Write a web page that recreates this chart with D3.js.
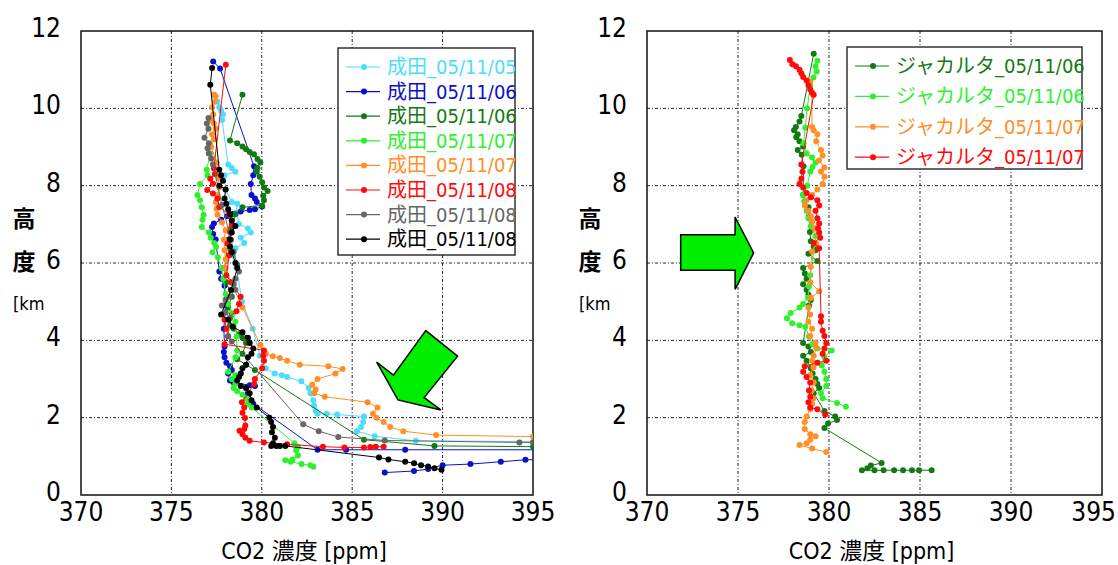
<!DOCTYPE html>
<html>
<head>
<meta charset="utf-8">
<script src="https://cdn.jsdelivr.net/npm/d3@7"></script>
<style>
body { margin: 0; background: #fff; }
text { font-family: "Liberation Sans Narrow", "DejaVu Sans Condensed", "Noto Sans CJK JP", sans-serif; }
</style>
</head>
<body>
<svg id="chart" width="1118" height="565"></svg>
<script>
// axis ticks
var xTicks = [370, 375, 380, 385, 390, 395];
var yTicks = [0, 2, 4, 6, 8, 10, 12];

// Narita profiles [CO2 ppm, altitude km]
var naritaCyan = [[377.35,10.35],[377.55,10.17],[377.65,10.03],[377.75,9.94],[377.85,9.84],[377.8,9.7],[378.14,8.55],[378.34,8.46],[378.54,8.36],[377.94,8.27],[378.0,7.9],[378.34,7.58],[378.64,7.53],[378.6,7.3],[378.74,7.01],[379.23,6.89],[379.39,6.79],[378.84,6.65],[379.03,6.52],[378.54,6.38],[378.4,6.2],[378.6,5.9],[378.9,5.0],[379.5,4.3],[379.9,3.6],[380.22,3.28],[380.71,3.14],[381.11,3.10],[381.4,3.05],[382.19,2.94],[382.59,2.77],[382.69,2.63],[382.85,2.45],[382.89,2.31],[382.98,2.17],[383.08,2.10],[383.58,2.10],[384.17,2.08],[385.65,2.03],[385.61,1.89],[385.49,1.76],[385.26,1.65],[386.24,1.52],[388.52,1.40],[395,1.38]];
var naritaBlue = [[377.31,11.21],[377.69,11.03],[379.57,8.50],[379.53,8.27],[379.39,8.04],[379.43,7.76],[379.62,7.67],[379.72,7.58],[380.02,7.46],[379.62,7.39],[379.33,7.37],[378.83,7.33],[378.38,7.27],[378.08,7.21],[377.75,7.12],[377.35,7.02],[377.25,6.93],[377.31,6.75],[377.45,6.61],[377.65,5.78],[377.75,5.59],[377.94,5.41],[378.0,4.9],[377.9,4.3],[377.94,3.84],[377.9,3.70],[377.94,3.56],[378.04,3.42],[378.24,3.33],[378.34,3.23],[378.14,3.14],[378.24,2.96],[378.44,2.91],[379.33,2.84],[379.62,2.82],[379.13,2.77],[379.23,2.63],[379.53,2.36],[383.08,1.17],[384.66,1.17],[387.93,1.17],[399,1.17],[399,0.95],[394.58,0.91],[393.22,0.86],[391.54,0.80],[390.0,0.77],[389.2,0.67],[388.42,0.62],[386.8,0.58]];
var naritaDkGreen = [[378.93,10.35],[378.24,9.17],[378.64,9.10],[378.93,9.01],[379.13,8.94],[379.33,8.87],[379.57,8.81],[379.76,8.69],[379.92,8.60],[379.76,8.46],[379.72,8.36],[379.88,8.23],[380.02,8.09],[380.12,7.95],[380.32,7.86],[380.08,7.74],[380.12,7.62],[380.02,7.49],[378.93,7.44],[378.54,7.26],[378.3,6.9],[378.14,6.6],[377.94,5.87],[378.04,5.5],[378.34,5.13],[378.14,4.85],[378.34,4.67],[378.24,4.39],[378.44,4.30],[378.74,4.16],[378.93,4.07],[379.13,3.93],[378.93,3.65],[378.64,3.51],[379.13,3.37],[379.62,3.23],[385.65,1.43],[389.55,1.27],[395,1.25]];
var naritaLtGreen = [[377.15,8.83],[376.95,8.41],[377.0,8.27],[376.58,8.04],[376.44,7.76],[376.58,7.62],[376.68,7.44],[376.78,7.25],[376.72,7.12],[376.68,6.93],[377.07,6.79],[377.17,6.65],[377.37,6.52],[377.47,6.42],[377.27,6.28],[377.57,6.15],[377.77,5.87],[377.87,5.59],[378.0,5.2],[378.14,4.94],[378.4,4.7],[378.54,4.48],[378.6,4.1],[378.64,3.74],[378.54,3.56],[378.14,3.19],[378.54,3.10],[378.34,3.0],[378.54,2.87],[378.44,2.77],[378.64,2.68],[378.93,2.59],[379.13,2.50],[379.23,2.36],[379.43,2.26],[381.8,1.34],[382.0,1.25],[381.9,1.16],[382.0,1.02],[381.7,0.92],[381.3,0.90],[381.6,0.86],[382.2,0.80],[382.69,0.77],[382.85,0.73]];
var naritaOrange = [[377.35,10.35],[377.45,10.31],[377.4,10.17],[377.25,10.03],[377.31,9.84],[377.19,9.70],[377.35,9.61],[377.45,9.47],[377.25,9.33],[377.35,9.20],[377.2,9.0],[377.5,8.6],[377.6,8.2],[377.65,7.95],[377.55,7.76],[377.45,7.58],[377.5,7.4],[377.55,7.25],[377.8,7.05],[378.0,6.85],[377.9,6.6],[377.94,6.33],[378.0,6.1],[378.0,5.87],[378.3,5.5],[378.93,4.85],[379.92,3.88],[380.22,3.65],[380.61,3.59],[381.0,3.54],[381.4,3.47],[382.1,3.37],[383.68,3.33],[384.47,3.26],[384.07,3.14],[383.08,3.0],[382.79,2.85],[382.98,2.73],[382.89,2.63],[383.48,2.54],[385.85,2.40],[386.4,2.26],[386.15,2.10],[386.34,2.0],[386.74,1.89],[387.1,1.76],[387.83,1.65],[389.64,1.55],[395,1.51]];
var naritaRed = [[378.01,11.13],[377.35,8.45],[377.4,8.3],[377.15,8.18],[377.3,8.05],[376.98,7.89],[377.3,7.8],[377.55,7.67],[377.65,7.45],[378.2,7.25],[378.34,7.01],[378.24,6.8],[378.1,6.5],[378.2,6.2],[378.04,5.68],[378.3,5.5],[378.83,5.13],[378.74,4.94],[378.6,4.75],[377.94,4.53],[378.04,4.30],[378.14,4.1],[377.94,3.9],[380.12,3.74],[380.08,3.6],[380.12,3.47],[380.02,3.28],[379.62,3.0],[379.57,2.87],[378.9,2.40],[379.03,2.26],[378.93,2.13],[379.07,1.99],[379.09,1.80],[379.03,1.71],[378.77,1.66],[378.93,1.57],[379.09,1.48],[379.33,1.40],[380.12,1.36],[381.4,1.31],[383.38,1.25],[384.57,1.23],[385.65,1.23],[386.0,1.24],[386.3,1.25],[386.74,1.25]];
var naritaGray = [[377.05,9.75],[376.96,9.61],[377.05,9.47],[376.83,9.24],[377.07,9.10],[377.0,8.97],[377.07,8.83],[377.2,8.7],[377.3,8.55],[377.8,7.5],[378.3,6.6],[378.44,6.29],[378.64,5.96],[378.74,5.78],[378.54,5.59],[378.45,5.45],[378.54,5.31],[378.24,5.13],[378.0,5.05],[377.79,4.90],[378.0,4.72],[378.24,4.57],[378.14,4.11],[378.34,3.97],[382.29,1.83],[383.15,1.65],[384.23,1.50],[386.8,1.41],[394.25,1.36],[395,1.36]];
var naritaBlack = [[377.25,11.04],[377.15,10.61],[377.65,8.41],[377.75,8.27],[377.85,8.13],[377.65,8.0],[378.0,7.90],[377.94,7.67],[378.04,7.53],[378.14,7.39],[378.24,7.26],[378.34,7.10],[378.54,6.96],[378.34,6.79],[378.24,6.61],[378.24,6.42],[378.34,6.28],[378.54,6.0],[378.64,5.87],[378.3,5.3],[377.75,4.67],[378.14,4.53],[378.4,4.35],[378.93,4.21],[379.23,4.07],[379.33,3.93],[379.53,3.79],[379.43,3.65],[379.23,3.56],[379.13,3.37],[378.93,3.28],[378.84,3.14],[378.74,3.05],[378.64,2.96],[378.84,2.82],[379.13,2.77],[379.33,2.63],[379.43,2.45],[379.72,2.26],[380.42,2.0],[380.52,1.89],[380.62,1.76],[380.56,1.62],[380.72,1.48],[380.62,1.34],[380.52,1.27],[380.8,1.27],[381.0,1.27],[381.3,1.27],[386.48,0.97],[387.0,0.92],[387.93,0.86],[388.42,0.82],[388.81,0.77],[389.2,0.74],[389.55,0.69],[389.94,0.65]];

// Jakarta profiles
var jakDkGreen = [[379.16,11.41],[378.48,9.80],[378.38,9.66],[378.18,9.52],[378.08,9.43],[378.28,9.33],[378.2,9.25],[378.38,9.15],[378.58,9.01],[378.28,8.92],[378.5,8.8],[378.6,8.5],[378.58,7.76],[378.67,7.6],[378.87,7.44],[378.9,7.2],[378.95,6.8],[379.0,6.56],[379.16,6.42],[379.26,6.33],[378.87,6.24],[379.36,6.05],[378.58,5.87],[378.67,5.73],[378.77,5.59],[378.58,5.45],[378.77,5.31],[378.87,5.18],[379.0,5.04],[378.9,4.9],[378.58,3.93],[378.87,3.84],[379.0,3.70],[378.58,3.60],[378.77,3.47],[379.0,3.28],[379.1,3.14],[379.26,3.0],[379.36,2.87],[379.46,2.77],[379.16,2.63],[379.75,2.17],[380.34,2.03],[380.44,1.94],[379.95,1.85],[379.75,1.73],[382.89,0.83],[382.3,0.76],[382.11,0.69],[381.81,0.64],[382.5,0.64],[383.0,0.64],[383.58,0.64],[384.07,0.64],[384.56,0.64],[384.95,0.64],[385.64,0.64]];
var jakLtGreen = [[379.36,11.23],[379.26,11.09],[379.32,10.95],[379.15,10.8],[378.97,10.58],[378.8,10.0],[378.7,9.5],[378.6,9.1],[378.77,8.83],[379.07,8.73],[379.26,8.60],[379.1,8.48],[378.97,8.36],[378.8,8.0],[378.58,7.76],[378.65,7.6],[378.77,7.35],[378.87,7.16],[379.0,6.95],[379.26,6.70],[378.97,5.68],[378.9,5.4],[378.85,5.1],[378.58,4.94],[378.38,4.85],[377.89,4.71],[377.69,4.57],[377.98,4.44],[378.38,4.39],[378.7,4.35],[378.9,4.1],[379.1,3.9],[379.36,3.79],[380.14,3.74],[379.75,3.56],[379.6,3.35],[379.75,3.19],[379.85,3.0],[379.85,2.82],[379.56,2.63],[379.65,2.50],[380.44,2.38],[380.93,2.28]];
var jakOrange = [[378.97,10.69],[379.05,10.4],[379.07,9.52],[379.16,9.43],[379.36,9.33],[379.3,9.15],[379.56,8.92],[379.65,8.78],[379.45,8.65],[379.75,8.47],[379.56,8.36],[379.75,8.23],[379.65,8.04],[379.36,7.9],[379.07,7.76],[378.77,7.62],[378.67,7.48],[378.87,7.35],[379.0,7.21],[379.07,7.07],[379.2,6.9],[379.3,6.5],[379.07,6.3],[379.0,5.9],[378.97,5.5],[379.46,5.27],[379.0,5.1],[378.87,4.85],[378.97,4.67],[378.87,4.48],[379.07,4.30],[378.97,4.11],[379.26,3.93],[379.3,3.8],[379.16,3.60],[379.07,3.47],[379.15,3.3],[378.97,3.10],[379.16,2.91],[379.05,2.7],[379.15,2.5],[379.07,2.36],[378.97,2.22],[378.77,2.03],[378.67,1.89],[378.67,1.71],[378.97,1.57],[379.26,1.52],[378.97,1.43],[378.77,1.34],[378.38,1.29],[379.07,1.20],[379.85,1.11]];
var jakRed = [[377.85,11.25],[377.99,11.14],[378.18,11.09],[378.38,11.0],[378.48,10.91],[378.58,10.81],[378.77,10.72],[378.87,10.60],[378.97,10.49],[379.07,10.40],[379.16,10.35],[378.48,8.55],[378.54,8.36],[378.48,8.18],[378.38,8.04],[378.58,7.95],[378.77,7.81],[379.0,7.7],[379.36,7.62],[379.46,7.49],[379.26,7.35],[379.36,7.16],[379.46,7.02],[379.4,6.9],[379.46,6.79],[379.52,6.65],[379.16,6.52],[379.46,6.38],[379.56,4.62],[379.56,4.48],[379.65,4.25],[379.75,4.11],[379.85,3.93],[379.75,3.79],[379.65,3.65],[379.85,3.47],[379.36,3.42],[378.67,3.33],[378.58,3.19],[378.77,3.05],[378.97,2.91],[378.9,2.7],[378.97,2.54],[378.87,2.40],[378.97,2.26],[379.36,2.22],[379.79,2.08]];

var naritaSeries = [
  {name: '成田_05/11/05', color: '#4ddcff', data: naritaCyan},
  {name: '成田_05/11/06', color: '#0a10cc', data: naritaBlue},
  {name: '成田_05/11/06', color: '#127a12', data: naritaDkGreen},
  {name: '成田_05/11/07', color: '#2ef02e', data: naritaLtGreen},
  {name: '成田_05/11/07', color: '#ff8f26', data: naritaOrange},
  {name: '成田_05/11/08', color: '#ff0a0a', data: naritaRed},
  {name: '成田_05/11/08', color: '#666666', data: naritaGray},
  {name: '成田_05/11/08', color: '#000000', data: naritaBlack}
];
var jakSeries = [
  {name: 'ジャカルタ_05/11/06', color: '#127a12', data: jakDkGreen},
  {name: 'ジャカルタ_05/11/06', color: '#2ef02e', data: jakLtGreen},
  {name: 'ジャカルタ_05/11/07', color: '#ff8f26', data: jakOrange},
  {name: 'ジャカルタ_05/11/07', color: '#ff0a0a', data: jakRed}
];

// decorative arrows, in data units
var arrowLeft = [[386.35,3.44],[387.28,3.10],[389.07,4.25],[390.83,3.59],[388.98,2.52],[389.9,2.20],[387.53,2.46]];
var arrowRight = [[371.85,6.73],[374.84,6.73],[374.84,7.19],[375.86,6.26],[374.84,5.32],[374.84,5.81],[371.85,5.81]];

var svg = d3.select('#chart');

function drawPanel(id, x0, x1, series, legend, arrow) {
  var y0 = 31, y1 = 495;
  var x = d3.scaleLinear().domain([370, 395]).range([x0, x1]);
  var y = d3.scaleLinear().domain([0, 12]).range([y1, y0]);
  var g = svg.append('g');

  g.append('clipPath').attr('id', 'clip' + id)
    .append('rect').attr('x', x0).attr('y', y0).attr('width', x1 - x0).attr('height', y1 - y0);

  // grid
  g.selectAll('.gx').data(xTicks.slice(1, -1)).enter().append('line')
    .attr('x1', function(d){return x(d);}).attr('x2', function(d){return x(d);})
    .attr('y1', y0).attr('y2', y1)
    .style('stroke', '#222').style('stroke-width', 1).style('stroke-dasharray', '3,2,1,2');
  g.selectAll('.gy').data(yTicks.slice(1, -1)).enter().append('line')
    .attr('y1', function(d){return y(d);}).attr('y2', function(d){return y(d);})
    .attr('x1', x0).attr('x2', x1)
    .style('stroke', '#222').style('stroke-width', 1).style('stroke-dasharray', '3,2,1,2');

  g.append('rect').attr('x', x0).attr('y', y0).attr('width', x1 - x0).attr('height', y1 - y0)
    .style('fill', 'none').style('stroke', '#111').style('stroke-width', 1.5);

  // tick labels (a label that would run off the page is end-anchored at the edge)
  g.selectAll('.tx').data(xTicks).enter().append('text')
    .attr('x', function(d){return x(d) + 22 > 1116 ? 1116 : x(d);}).attr('y', 521)
    .attr('text-anchor', function(d){return x(d) + 22 > 1116 ? 'end' : 'middle';})
    .style('font-size', '26px').text(function(d){return d;});
  g.selectAll('.ty').data(yTicks).enter().append('text')
    .attr('x', x0 - 20).attr('y', function(d){return y(d) + 6;})
    .attr('text-anchor', 'end').style('font-size', '26px').text(function(d){return d;});

  // axis titles
  g.append('text').attr('x', (x0 + x1) / 2 - 3).attr('y', 559).attr('text-anchor', 'middle')
    .style('font-size', '23px').text('CO2 濃度 [ppm]');
  g.append('text').attr('x', x0 - 57).attr('y', 227).attr('text-anchor', 'middle')
    .style('font-size', '23px').style('font-weight', 'bold').style('font-family', 'Noto Sans CJK JP').text('高');
  g.append('text').attr('x', x0 - 57).attr('y', 270).attr('text-anchor', 'middle')
    .style('font-size', '23px').style('font-weight', 'bold').style('font-family', 'Noto Sans CJK JP').text('度');
  g.append('text').attr('x', x0 - 68).attr('y', 310)
    .style('font-size', '18px').text('[km');

  // series
  var line = d3.line().x(function(d){return x(d[0]);}).y(function(d){return y(d[1]);});
  var sg = g.append('g').attr('clip-path', 'url(#clip' + id + ')');
  series.forEach(function(s) {
    sg.append('path').attr('d', line(s.data))
      .style('fill', 'none').style('stroke', s.color).style('stroke-width', 1);
    sg.selectAll(null).data(s.data).enter().append('circle')
      .attr('cx', function(d){return x(d[0]);}).attr('cy', function(d){return y(d[1]);})
      .attr('r', 3).style('fill', s.color);
  });

  // arrow
  g.append('path').attr('d', line(arrow) + 'Z')
    .style('fill', '#00ee00').style('stroke', '#000').style('stroke-width', 1.5).style('stroke-linejoin', 'miter');

  // legend
  var lg = g.append('g');
  lg.append('rect').attr('x', legend.x).attr('y', legend.y).attr('width', legend.w).attr('height', legend.h)
    .style('fill', '#fff').style('stroke', '#333').style('stroke-width', 1.5);
  series.forEach(function(s, i) {
    var cy = legend.y + legend.first + i * legend.step;
    lg.append('line').attr('x1', legend.x + 8).attr('x2', legend.x + 42).attr('y1', cy).attr('y2', cy)
      .style('stroke', s.color).style('stroke-width', 1.2);
    lg.append('circle').attr('cx', legend.x + 26).attr('cy', cy).attr('r', 3).style('fill', s.color);
    lg.append('text').attr('x', legend.x + 49).attr('y', cy + 7)
      .style('font-size', '20px').style('fill', s.color).text(s.name);
  });
}

drawPanel('L', 81, 533, naritaSeries, {x: 338, y: 48, w: 177, h: 207, first: 19, step: 24.6}, arrowLeft);
drawPanel('R', 647, 1102, jakSeries, {x: 847, y: 47, w: 235, h: 122, first: 19, step: 30.4}, arrowRight);
</script>
</body>
</html>
